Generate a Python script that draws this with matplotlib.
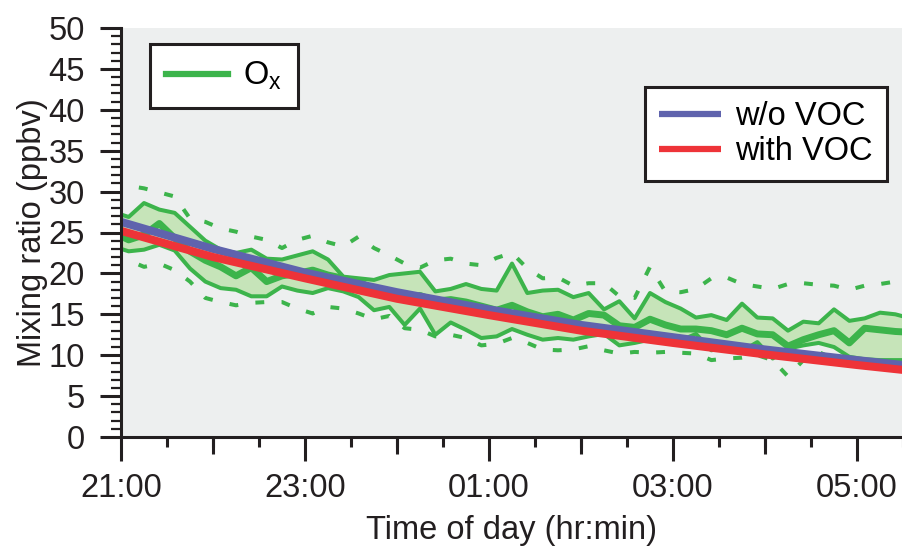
import matplotlib
matplotlib.use("Agg")
import matplotlib.pyplot as plt
import matplotlib.ticker as ticker
import numpy as np

plt.rcParams['font.family'] = ['Liberation Sans', 'DejaVu Sans']
plt.rcParams['mathtext.default'] = 'regular'

# measurements every 10 min, first point at 20:55 (hours after 21:00)
t_meas = (np.arange(-1, 52) * 10 + 5) / 60.0

ox_upper = [27.5, 26.9, 28.6, 27.8, 27.4, 25.7, 24.0, 22.9, 22.5, 22.9, 21.8,
            21.7, 22.2, 22.7, 21.7, 19.6, 19.4, 19.2, 19.8, 20.0, 20.2, 17.8,
            18.1, 18.7, 18.1, 17.9, 21.2, 17.6, 17.9, 18.0, 17.1, 17.6, 15.6,
            16.6, 14.5, 17.6, 16.5, 15.7, 14.6, 14.9, 14.3, 16.3, 14.6, 14.5,
            13.0, 14.1, 13.9, 15.6, 14.2, 14.5, 15.2, 15.0, 14.5]
ox_median = [25.0, 24.1, 24.7, 26.1, 24.3, 22.7, 21.6, 20.8, 19.7, 20.7, 19.0,
             19.7, 20.0, 20.4, 19.8, 19.4, 19.0, 18.0, 17.7, 17.0, 17.3, 16.6,
             16.8, 16.5, 16.0, 15.5, 16.1, 15.3, 14.7, 15.0, 14.3, 15.1, 14.9,
             13.6, 13.4, 14.4, 13.7, 13.2, 13.2, 13.0, 12.5, 13.3, 12.6, 12.5,
             11.1, 11.9, 12.5, 13.0, 11.5, 13.3, 13.1, 12.9, 12.8]
ox_lower = [23.3, 22.7, 22.9, 23.5, 22.8, 20.6, 19.0, 18.2, 18.0, 17.2, 17.2,
            18.4, 17.9, 17.6, 18.2, 17.8, 17.1, 15.5, 15.9, 13.7, 15.7, 12.5,
            14.0, 13.1, 12.1, 12.3, 13.2, 12.5, 11.9, 12.1, 11.9, 12.3, 12.6,
            11.2, 11.5, 11.9, 12.0, 11.8, 12.6, 10.6, 11.0, 10.5, 11.6, 9.6,
            10.8, 11.2, 11.5, 11.0, 9.8, 9.5, 9.4, 9.4, 9.4]
ox_max = [31.2, 30.7, 30.4, 29.9, 29.4, 26.7, 26.3, 25.5, 25.1, 24.5, 24.1,
          23.1, 24.1, 24.6, 23.8, 23.3, 24.5, 23.1, 22.2, 21.2, 20.7, 21.6,
          21.8, 21.2, 21.0, 21.9, 22.5, 20.6, 19.4, 19.5, 18.5, 18.8, 18.8,
          17.2, 17.0, 20.8, 17.8, 17.7, 18.1, 19.4, 19.5, 18.7, 18.4, 18.1,
          18.7, 18.8, 18.6, 18.5, 18.0, 18.5, 18.7, 19.0, 19.0]
ox_min = [21.5, 21.6, 20.8, 21.2, 20.4, 19.0, 17.0, 16.5, 16.1, 16.4, 16.5,
          16.5, 15.7, 15.1, 15.9, 15.7, 15.1, 14.4, 14.8, 13.3, 13.1, 12.3,
          12.5, 12.1, 11.2, 11.4, 12.1, 11.5, 10.7, 10.6, 10.7, 11.1, 10.6,
          10.2, 10.4, 10.3, 10.4, 10.3, 10.2, 9.4, 9.6, 9.7, 10.0, 9.4,
          7.4, 9.4, 10.4, 9.5, 9.3, 9.1, 9.0, 8.9, 8.8]

# model runs, hours after 21:00
t_model = [0, 1, 2, 3, 4, 5, 6, 7, 8, 8.5]
no_voc = [26.3, 23.0, 20.1, 17.7, 15.6, 13.7, 12.2, 10.7, 9.4, 8.8]
with_voc = [25.2, 22.0, 19.4, 16.9, 14.9, 13.0, 11.5, 10.1, 8.8, 8.2]

tick_hours = [0, 2, 4, 6, 8]
tick_labels = ["21:00", "23:00", "01:00", "03:00", "05:00"]

green = "#3cb44b"
ink = "#231f20"
fs = 23.5

fig = plt.figure(figsize=(9.03, 5.47), dpi=100)
ax = fig.add_axes([121 / 903, 1 - 437 / 547, 782 / 903, 409 / 547])
ax.set_facecolor("#edefef")

ax.fill_between(t_meas, ox_lower, ox_upper, color="#c6e4b9", lw=0)
ax.plot(t_meas, ox_upper, color=green, lw=2.9)
ax.plot(t_meas, ox_lower, color=green, lw=2.9)
ax.plot(t_meas, ox_max, color=green, lw=2.9, ls=(0, (2.2, 4.3)))
ax.plot(t_meas, ox_min, color=green, lw=2.9, ls=(0, (2.2, 4.3)))
ax.plot(t_meas, ox_median, color=green, lw=5)
l_ox, = ax.plot([], [], color=green, lw=4.5, label="O$_x$")

l_no, = ax.plot(t_model, no_voc, color="#5f63ad", lw=5.8, label="w/o VOC",
                solid_capstyle="butt")
l_with, = ax.plot(t_model, with_voc, color="#ee3338", lw=5.8, label="with VOC",
                  solid_capstyle="butt")

ax.set_xlim(0, 8.5)
ax.set_ylim(0, 50)

ax.xaxis.set_major_locator(ticker.FixedLocator(tick_hours))
ax.xaxis.set_major_formatter(ticker.FixedFormatter(tick_labels))
ax.xaxis.set_minor_locator(ticker.MultipleLocator(0.5))
ax.yaxis.set_major_locator(ticker.MultipleLocator(5))
ax.yaxis.set_minor_locator(ticker.MultipleLocator(1))

ax.tick_params(axis="both", which="major", direction="out", width=2.2,
               labelsize=fs, color=ink, labelcolor=ink)
ax.tick_params(axis="x", which="major", length=17, pad=9)
ax.tick_params(axis="y", which="major", length=15, pad=11)
ax.tick_params(axis="x", which="minor", length=7, width=2.2, color=ink)
ax.tick_params(axis="y", which="minor", length=7, width=1.6, color=ink)

# hourly ticks of middle length
sec = ax.secondary_xaxis("bottom")
sec.xaxis.set_major_locator(ticker.FixedLocator([1, 3, 5, 7]))
sec.tick_params(length=12.5, width=2.2, color=ink, labelbottom=False)
sec.spines["bottom"].set_visible(False)

for side in ["top", "right"]:
    ax.spines[side].set_visible(False)
for side in ["left", "bottom"]:
    ax.spines[side].set_linewidth(2.2)
    ax.spines[side].set_color(ink)

ax.set_xlabel("Time of day (hr:min)", fontsize=fs, color=ink, labelpad=8)
ax.set_ylabel("Mixing ratio (ppbv)", fontsize=fs, color=ink, labelpad=0)

leg1 = ax.legend(handles=[l_ox], loc="upper left",
                 bbox_to_anchor=(150 / 903, 1 - 44 / 547),
                 bbox_transform=fig.transFigure, borderaxespad=0,
                 fontsize=fs, fancybox=False, framealpha=1, edgecolor=ink,
                 handlelength=1.9, handletextpad=0.45, borderpad=0.49)
leg1.get_frame().set_linewidth(2.2)
ax.add_artist(leg1)

leg2 = ax.legend(handles=[l_no, l_with], loc="upper right",
                 bbox_to_anchor=(887 / 903, 1 - 87 / 547),
                 bbox_transform=fig.transFigure, borderaxespad=0,
                 fontsize=fs, fancybox=False, framealpha=1, edgecolor=ink,
                 handlelength=1.9, handletextpad=0.45, borderpad=0.43,
                 labelspacing=0.12)
leg2.get_frame().set_linewidth(2.2)
for h in leg2.get_lines():
    h.set_linewidth(4.5)

fig.savefig("out.png", dpi=100, facecolor="white")
